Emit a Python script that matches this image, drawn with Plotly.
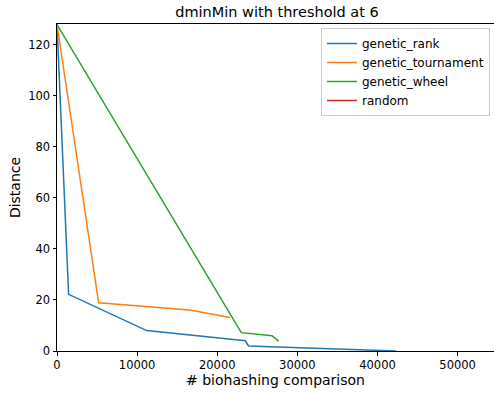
import plotly.graph_objects as go

rank_x = [0, 1450, 11200, 23500, 23900, 42300]
rank_y = [128, 22.2, 8.0, 4.0, 2.0, 0]
tour_x = [0, 5200, 16540, 21630]
tour_y = [128, 18.9, 16.1, 13.1]
wheel_x = [0, 23000, 26830, 27660]
wheel_y = [128, 7.2, 6.0, 3.9]
random_x = []
random_y = []

fig = go.Figure()
series = [
    ("genetic_rank", rank_x, rank_y, "#1f77b4"),
    ("genetic_tournament", tour_x, tour_y, "#ff7f0e"),
    ("genetic_wheel", wheel_x, wheel_y, "#2ca02c"),
    ("random", random_x, random_y, "#d62728"),
]
for name, xs, ys, c in series:
    fig.add_trace(go.Scatter(x=xs if xs else [None], y=ys if ys else [None], name=name,
                             mode="lines", line=dict(color=c, width=1.5)))

font = "DejaVu Sans, sans-serif"
fig.update_layout(
    width=494, height=394,
    margin=dict(l=57, r=0, t=24, b=43),
    paper_bgcolor="white", plot_bgcolor="white",
    font=dict(family=font, size=12, color="black"),
    title=dict(text="dminMin with threshold at 6", x=277 / 494, xanchor="center",
               y=1 - 12 / 394, yanchor="middle", font=dict(size=14.5)),
    showlegend=True,
    legend=dict(x=(321 - 57) / (494 - 57), y=1 - (28 - 24) / (351 - 24), xanchor="left", yanchor="top",
                bgcolor="rgba(255,255,255,0.8)", bordercolor="#cccccc", borderwidth=1,
                font=dict(size=12), tracegroupgap=0, itemwidth=30),
    xaxis=dict(range=[0, 54540], showgrid=False, zeroline=False, showline=True, linecolor="black",
               linewidth=1, mirror=True, ticks="outside", ticklen=3.5, tickcolor="black",
               automargin=False, tickfont=dict(size=11.5),
               tickvals=[0, 10000, 20000, 30000, 40000, 50000],
               ticktext=["0", "10000", "20000", "30000", "40000", "50000"],
               title=dict(text="# biohashing comparison", standoff=2)),
    yaxis=dict(range=[0, 128.2], showgrid=False, zeroline=False, showline=True, linecolor="black",
               linewidth=1, ticks="outside", ticklen=3.5, tickcolor="black",
               automargin=False, tickfont=dict(size=11.5),
               tickvals=[0, 20, 40, 60, 80, 100, 120],
               title=dict(text="Distance", standoff=4)),
)
fig.write_html("out.html", config={"displayModeBar": False},
               post_script="document.body.style.margin='0';document.body.style.overflow='hidden';")
